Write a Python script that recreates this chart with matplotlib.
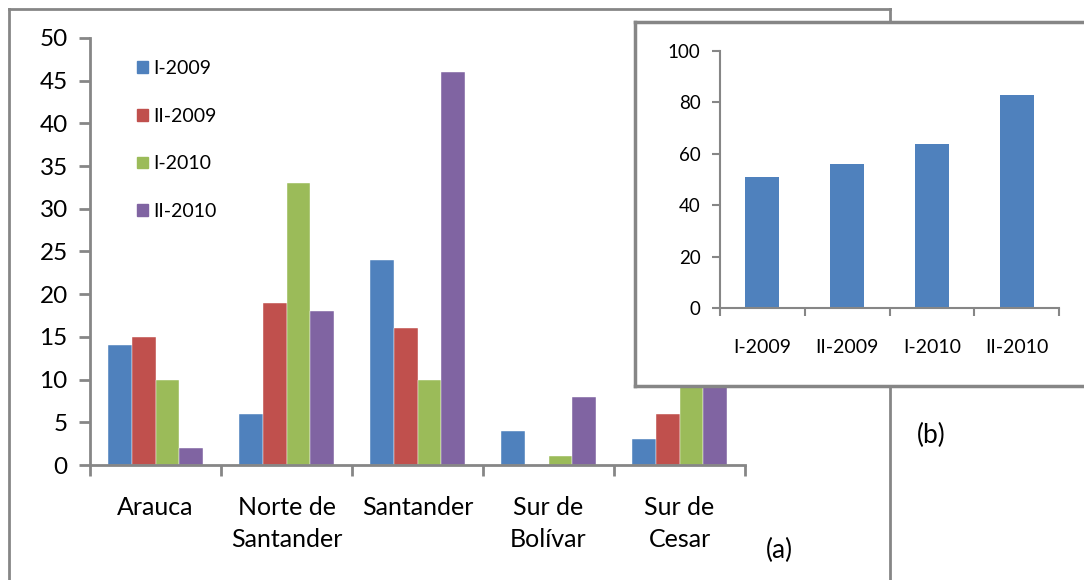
import numpy as np
import matplotlib.pyplot as plt
from matplotlib.patches import Patch

plt.rcParams['font.family'] = ['Lato', 'DejaVu Sans']

regions = ['Arauca', 'Norte de\nSantander', 'Santander', 'Sur de\nBolívar', 'Sur de\nCesar']
periods = ['I-2009', 'II-2009', 'I-2010', 'II-2010']
i_2009 = [14, 6, 24, 4, 3]
ii_2009 = [15, 19, 16, 0, 6]
i_2010 = [10, 33, 10, 1, 12]   # last value hidden behind inset, estimated
ii_2010 = [2, 18, 46, 8, 14]   # last value hidden behind inset, estimated
totals = [51, 56, 64, 83]

colors = ['#4F81BD', '#C0504D', '#9BBB59', '#8064A2']
gray = '#868686'
W, H = 1084, 580

fig = plt.figure(figsize=(W / 100, H / 100), dpi=100)


def fbox(x0, y0, x1, y1):
    # pixel box (top-left origin) -> figure fraction rect
    return [x0 / W, 1 - y1 / H, (x1 - x0) / W, (y1 - y0) / H]


# outer frame (a)
fa = fig.add_axes(fbox(9, 9, 890, 620), zorder=0)
fa.set_xticks([]); fa.set_yticks([])
for s in fa.spines.values():
    s.set_color(gray); s.set_linewidth(2)

# main chart
ax = fig.add_axes(fbox(90, 38, 745, 465), zorder=1)
ax.patch.set_alpha(0)
series = [i_2009, ii_2009, i_2010, ii_2010]
x = np.arange(len(regions))
bw = 0.183
for k, (vals, c) in enumerate(zip(series, colors)):
    ax.bar(x + (k - 1.5) * bw, vals, bw, color=c, edgecolor='white', linewidth=0.3)
ax.set_xlim(-0.5, len(regions) - 0.5)
ax.set_ylim(0, 50)
ax.set_yticks(range(0, 51, 5))
ax.set_xticks(x)
ax.set_xticklabels(regions, fontsize=18, linespacing=1.5)
ax.set_xticks(np.arange(-0.5, len(regions)), minor=True)
ax.tick_params(axis='x', which='major', length=0, pad=22)
ax.tick_params(axis='x', which='minor', length=8, width=2, color=gray)
ax.tick_params(axis='y', length=8, width=2, color=gray, labelsize=17.5, pad=8)
for s in ['top', 'right']:
    ax.spines[s].set_visible(False)
for s in ['left', 'bottom']:
    ax.spines[s].set_color(gray); ax.spines[s].set_linewidth(2)

handles = [Patch(color=c) for c in colors]
fig.legend(handles, periods, loc='upper left', bbox_to_anchor=(137 / W, 1 - 60 / H),
           frameon=False, fontsize=14, handlelength=0.55, handleheight=0.55,
           handletextpad=0.3, labelspacing=1.58, borderpad=0, borderaxespad=0)

fig.text(779 / W, 1 - 550 / H, '(a)', fontsize=19, ha='center', va='center')
fig.text(931 / W, 1 - 435 / H, '(b)', fontsize=19, ha='center', va='center')

# inset frame (b)
fb = fig.add_axes(fbox(635, 22, 1120, 386), zorder=2)
fb.set_xticks([]); fb.set_yticks([])
fb.set_facecolor('white')
for s in fb.spines.values():
    s.set_color(gray); s.set_linewidth(2.5)

axb = fig.add_axes(fbox(720, 51, 1059, 308), zorder=3)
axb.patch.set_alpha(0)
xb = np.arange(len(periods))
axb.bar(xb, totals, 0.4, color=colors[0])
axb.set_xlim(-0.5, len(periods) - 0.5)
axb.set_ylim(0, 100)
axb.set_yticks(range(0, 101, 20))
axb.set_xticks(xb)
axb.set_xticklabels(periods, fontsize=14)
axb.set_xticks(np.arange(-0.5, len(periods)), minor=True)
axb.tick_params(axis='x', which='major', length=0, pad=22)
axb.tick_params(axis='x', which='minor', length=6, width=1.5, color=gray)
axb.tick_params(axis='y', length=6, width=1.5, color=gray, labelsize=13.5, pad=8)
for s in ['top', 'right']:
    axb.spines[s].set_visible(False)
for s in ['left', 'bottom']:
    axb.spines[s].set_color(gray); axb.spines[s].set_linewidth(1.5)

fig.savefig('out.png', dpi=100)
